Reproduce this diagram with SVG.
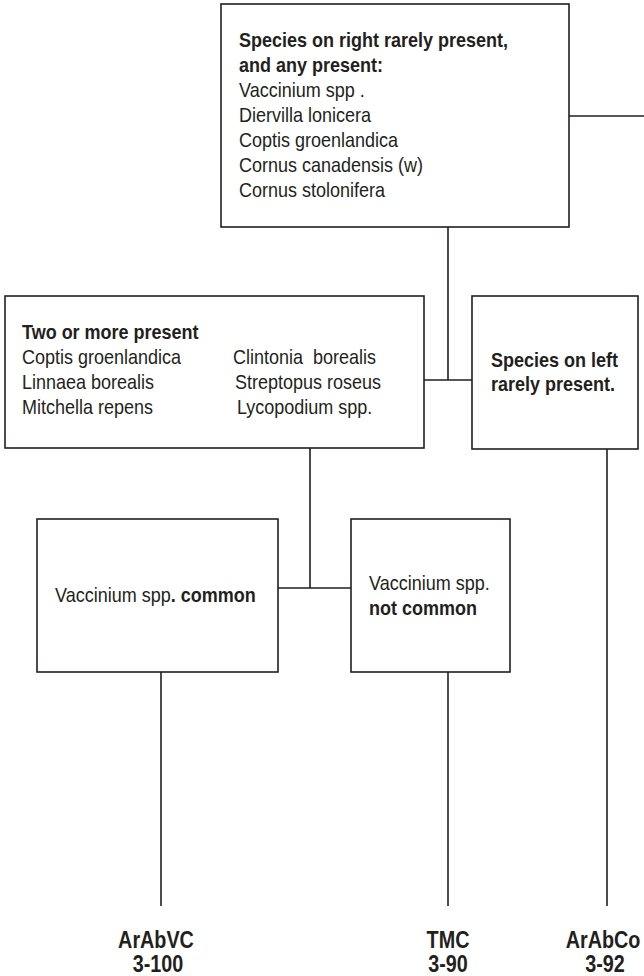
<svg xmlns="http://www.w3.org/2000/svg" width="644" height="976" viewBox="0 0 644 976">
  <style>
    .box { fill: #ffffff; stroke: #231f20; stroke-width: 1.6; }
    .wire { fill: none; stroke: #231f20; stroke-width: 1.6; }
    text { font-family: "Liberation Sans", Arial, sans-serif; font-size: 20px; fill: #231f20; }
    .b { font-weight: bold; }
    .code { font-weight: bold; font-size: 23px; text-anchor: middle; }
  </style>
  <rect width="644" height="976" fill="#ffffff"/>

  <!-- connectors -->
  <g id="connectors">
    <path class="wire" d="M569 116 H644"/>
    <path class="wire" d="M448 227 V380 M424 380 H472"/>
    <path class="wire" d="M310 448 V588 M278 588 H351"/>
    <path class="wire" d="M161 672 V906"/>
    <path class="wire" d="M448 672 V906"/>
    <path class="wire" d="M607 449 V906"/>
  </g>

  <!-- text is drawn narrowed (scale 0.9 across) to get a condensed face -->
  <g id="any-present">
    <rect class="box" x="221" y="4" width="348" height="223"/>
    <text transform="translate(239 47) scale(0.9 1)" class="b">Species on right rarely present,</text>
    <text transform="translate(239 72) scale(0.9 1)" class="b">and any present:</text>
    <text transform="translate(239 97) scale(0.9 1)">Vaccinium spp .</text>
    <text transform="translate(239 122) scale(0.9 1)">Diervilla lonicera</text>
    <text transform="translate(239 147) scale(0.9 1)">Coptis groenlandica</text>
    <text transform="translate(239 172) scale(0.9 1)">Cornus canadensis (w)</text>
    <text transform="translate(239 197) scale(0.9 1)">Cornus stolonifera</text>
  </g>

  <g id="two-or-more">
    <rect class="box" x="5" y="296" width="419" height="152"/>
    <text transform="translate(22 339) scale(0.9 1)" class="b">Two or more present</text>
    <text transform="translate(22 364) scale(0.9 1)">Coptis groenlandica</text>
    <text transform="translate(22 389) scale(0.9 1)">Linnaea borealis</text>
    <text transform="translate(22 414) scale(0.9 1)">Mitchella repens</text>
    <text transform="translate(233 364) scale(0.9 1)" xml:space="preserve">Clintonia  borealis</text>
    <text transform="translate(235 389) scale(0.9 1)">Streptopus roseus</text>
    <text transform="translate(237 414) scale(0.9 1)">Lycopodium spp.</text>
  </g>

  <g id="left-rare">
    <rect class="box" x="472" y="296" width="166" height="153"/>
    <text transform="translate(491 367) scale(0.9 1)" class="b">Species on left</text>
    <text transform="translate(491 391) scale(0.9 1)" class="b">rarely present.</text>
  </g>

  <g id="vacc-common">
    <rect class="box" x="37" y="519" width="241" height="153"/>
    <text transform="translate(55 602) scale(0.9 1)">Vaccinium spp<tspan class="b">. common</tspan></text>
  </g>

  <g id="vacc-not-common">
    <rect class="box" x="351" y="519" width="159" height="153"/>
    <text transform="translate(369 590) scale(0.9 1)">Vaccinium spp.</text>
    <text transform="translate(369 615) scale(0.9 1)" class="b">not common</text>
  </g>

  <g id="ArAbVC">
    <text transform="translate(156 948) scale(0.86 1)" class="code">ArAbVC</text>
    <text transform="translate(158 972) scale(0.86 1)" class="code">3-100</text>
  </g>
  <g id="TMC">
    <text transform="translate(448 948) scale(0.86 1)" class="code">TMC</text>
    <text transform="translate(448 972) scale(0.86 1)" class="code">3-90</text>
  </g>
  <g id="ArAbCo">
    <text transform="translate(603 948) scale(0.86 1)" class="code">ArAbCo</text>
    <text transform="translate(605 972) scale(0.86 1)" class="code">3-92</text>
  </g>
</svg>
